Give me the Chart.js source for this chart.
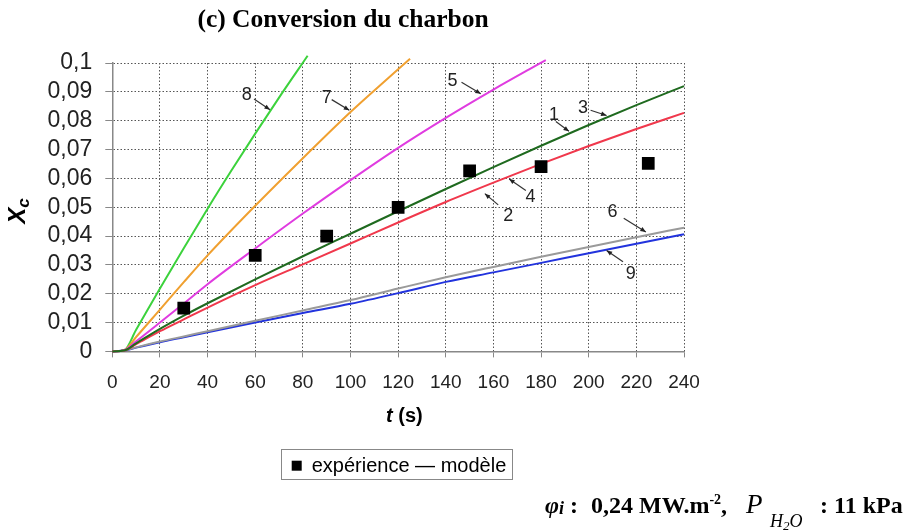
<!DOCTYPE html>
<html lang="fr">
<head>
<meta charset="utf-8">
<title>Conversion du charbon</title>
<script src="https://cdn.jsdelivr.net/npm/chart.js@4.4.1/dist/chart.umd.min.js"></script>
<style>
  html, body { margin: 0; padding: 0; background: #fff; }
  #wrap { position: relative; width: 913px; height: 530px; }
</style>
</head>
<body>
<div id="wrap"><canvas id="chart"></canvas></div>
<script>
/*--Données--*/
// points expérimentaux : temps (s) et conversion Xc
const tExp = [30, 60, 90, 120, 150, 180, 225];
const xExp = [0.0150, 0.0333, 0.0400, 0.0499, 0.0626, 0.0641, 0.0652];

// modèle, courbes sur toute la durée
const tModel = [0, 5, 10, 20, 30, 40, 60, 80, 100, 120, 140, 160, 180, 200, 220, 240];
const xModel1 = [0, 0.0003, 0.0028, 0.0078, 0.0124, 0.0167, 0.0250, 0.0330, 0.0408, 0.0486, 0.0563, 0.0639, 0.0713, 0.0785, 0.0854, 0.0920]; // 1 et 3
const xModel2 = [0, 0.0003, 0.0025, 0.0070, 0.0111, 0.0152, 0.0230, 0.0302, 0.0374, 0.0447, 0.0518, 0.0585, 0.0650, 0.0712, 0.0771, 0.0827]; // 2 et 4
const xModel6 = [0, 0.0003, 0.0014, 0.0034, 0.0052, 0.0070, 0.0106, 0.0142, 0.0178, 0.0218, 0.0257, 0.0293, 0.0328, 0.0362, 0.0396, 0.0429];
const xModel9 = [0, 0.0003, 0.0013, 0.0032, 0.0049, 0.0066, 0.0100, 0.0133, 0.0165, 0.0202, 0.0241, 0.0274, 0.0307, 0.0340, 0.0373, 0.0406];

// courbes rapides, qui sortent par le haut
const t5 = [0, 5, 10, 20, 30, 40, 60, 80, 100, 120, 140, 160, 175, 182];
const xModel5 = [0, 0.0004, 0.0035, 0.0100, 0.0166, 0.0233, 0.0357, 0.0478, 0.0594, 0.0706, 0.0810, 0.0908, 0.0978, 0.1010];
const t7 = [0, 5, 10, 20, 30, 40, 60, 80, 100, 110, 125];
const xModel7 = [0, 0.0004, 0.0050, 0.0145, 0.0240, 0.0333, 0.0505, 0.0670, 0.0830, 0.0905, 0.1015];
const t8 = [0, 5, 10, 20, 30, 40, 50, 60, 70, 82];
const xModel8 = [0, 0.0004, 0.0075, 0.0218, 0.0358, 0.0495, 0.0627, 0.0755, 0.0880, 0.1025];

const yTickLabels = ['0', '0,01', '0,02', '0,03', '0,04', '0,05', '0,06', '0,07', '0,08', '0,09', '0,1'];

// numéros des courbes : texte, départ et pointe de la flèche, en (t, Xc)
const curveLabels = [
  { text: '8', at: [56.4, 0.0890], from: [59.5, 0.0875], to: [66.2, 0.0838] },
  { text: '7', at: [90.0, 0.0879], from: [92.1, 0.0873], to: [99.5, 0.0836] },
  { text: '5', at: [142.8, 0.0936], from: [146.6, 0.0933], to: [154.7, 0.0893] },
  { text: '1', at: [185.4, 0.0821], from: [186.2, 0.0797], to: [191.7, 0.0763] },
  { text: '3', at: [197.6, 0.0844], from: [200.8, 0.0836], to: [207.5, 0.0818] },
  { text: '4', at: [175.6, 0.0534], from: [173.6, 0.0558], to: [166.6, 0.0598] },
  { text: '2', at: [166.2, 0.0468], from: [162.0, 0.0508], to: [156.4, 0.0547] },
  { text: '6', at: [210.0, 0.0482], from: [214.7, 0.0462], to: [224.0, 0.0414] },
  { text: '9', at: [217.7, 0.0269], from: [214.4, 0.0311], to: [207.5, 0.0350] }
];
/*--------*/

function pts(ts, xs) {
  return ts.map(function (t, i) { return { x: t, y: xs[i] }; });
}

function model(ts, xs, color) {
  return {
    data: pts(ts, xs),
    showLine: true,
    borderColor: color,
    borderWidth: 2,
    pointRadius: 0,
    cubicInterpolationMode: 'monotone',
    clip: { left: 2, top: 12, right: 2, bottom: 2 }
  };
}

function arrow(ctx, x1, y1, x2, y2) {
  const a = Math.atan2(y2 - y1, x2 - x1);
  ctx.beginPath();
  ctx.moveTo(x1, y1);
  ctx.lineTo(x2, y2);
  ctx.stroke();
  ctx.beginPath();
  ctx.moveTo(x2, y2);
  ctx.lineTo(x2 - 6 * Math.cos(a - 0.4), y2 - 6 * Math.sin(a - 0.4));
  ctx.lineTo(x2 - 6 * Math.cos(a + 0.4), y2 - 6 * Math.sin(a + 0.4));
  ctx.closePath();
  ctx.fill();
}

// texte en plusieurs morceaux (indices, exposants)
function runs(ctx, x, y, parts) {
  parts.forEach(function (p) {
    ctx.font = p.font;
    if (p.x !== undefined) x = p.x;
    ctx.fillText(p.text, x, y + (p.dy || 0));
    x += ctx.measureText(p.text).width;
  });
}

const decor = {
  id: 'decor',
  afterDatasetsDraw(chart) {
    const ctx = chart.ctx;
    const sx = chart.scales.x, sy = chart.scales.y;
    ctx.save();
    ctx.strokeStyle = '#333';
    ctx.fillStyle = '#222';
    ctx.lineWidth = 1.2;
    ctx.font = '18px "Liberation Sans", Arial, sans-serif';
    ctx.textAlign = 'center';
    ctx.textBaseline = 'middle';
    curveLabels.forEach(function (l) {
      ctx.fillText(l.text, sx.getPixelForValue(l.at[0]), sy.getPixelForValue(l.at[1]));
      arrow(ctx,
        sx.getPixelForValue(l.from[0]), sy.getPixelForValue(l.from[1]),
        sx.getPixelForValue(l.to[0]), sy.getPixelForValue(l.to[1]));
    });
    ctx.restore();
  },
  afterDraw(chart) {
    const ctx = chart.ctx;
    ctx.save();
    ctx.fillStyle = '#000';
    ctx.textBaseline = 'alphabetic';

    // titre
    ctx.textAlign = 'center';
    ctx.font = 'bold 25.5px "Liberation Serif", "Times New Roman", serif';
    ctx.fillText('(c) Conversion du charbon', 343, 27);

    // titre de l'axe t
    ctx.textAlign = 'left';
    runs(ctx, 386, 422, [
      { text: 't', font: 'bold italic 20px "Liberation Sans", Arial, sans-serif' },
      { text: ' (s)', font: 'bold 20px "Liberation Sans", Arial, sans-serif' }
    ]);

    // titre de l'axe Xc, vertical
    ctx.save();
    ctx.translate(25, 211);
    ctx.rotate(-Math.PI / 2);
    ctx.font = 'bold italic 24px "Liberation Sans", Arial, sans-serif';
    const wX = ctx.measureText('X').width;
    ctx.font = 'bold italic 17px "Liberation Sans", Arial, sans-serif';
    const wc = ctx.measureText('c').width;
    runs(ctx, -(wX + wc) / 2, 0, [
      { text: 'X', font: 'bold italic 24px "Liberation Sans", Arial, sans-serif' },
      { text: 'c', font: 'bold italic 17px "Liberation Sans", Arial, sans-serif', dy: 4 }
    ]);
    ctx.restore();

    // légende
    ctx.strokeStyle = '#888';
    ctx.lineWidth = 1;
    ctx.strokeRect(281.5, 449.5, 231, 30);
    ctx.fillRect(291.7, 460.7, 10, 10);
    ctx.font = '20px "Liberation Sans", Arial, sans-serif';
    ctx.fillText('expérience — modèle', 311.7, 472);

    // conditions opératoires
    const serif = '"Liberation Serif", "Times New Roman", serif';
    runs(ctx, 545, 513, [
      { text: 'φ', font: 'bold italic 24px ' + serif },
      { text: 'i', font: 'bold italic 18px ' + serif, dy: 1 },
      { text: ' :', font: 'bold 24px ' + serif },
      { text: '0,24 MW.m', font: 'bold 24px ' + serif, x: 591 },
      { text: '-2', font: 'bold 14px ' + serif, dy: -9 },
      { text: ',', font: 'bold 24px ' + serif },
      { text: 'P', font: 'italic 27px ' + serif, x: 746 },
      { text: 'H', font: 'italic 18px ' + serif, dy: 14, x: 770 },
      { text: '2', font: 'italic 13px ' + serif, dy: 17 },
      { text: 'O', font: 'italic 18px ' + serif, dy: 14 },
      { text: ' : 11 kPa', font: 'bold 24px ' + serif, x: 814 }
    ]);
    ctx.restore();
  }
};

Chart.defaults.font.family = '"Liberation Sans", Arial, sans-serif';
Chart.defaults.color = '#222';

new Chart('chart', {
  type: 'scatter',
  data: {
    datasets: [
      {
        data: pts(tExp, xExp),
        pointStyle: 'rect',
        pointRadius: 9,
        pointBackgroundColor: '#000',
        pointBorderColor: '#000',
        pointBorderWidth: 0
      },
      model(tModel, xModel1, '#1f6a1f'),
      model(tModel, xModel2, '#f0384c'),
      model(tModel, xModel6, '#9a9a9a'),
      model(tModel, xModel9, '#2233dd'),
      model(t5, xModel5, '#e03ce0'),
      model(t7, xModel7, '#f0a030'),
      model(t8, xModel8, '#3cd23c')
    ]
  },
  options: {
    responsive: true,
    maintainAspectRatio: false,
    animation: false,
    events: [],
    layout: { padding: { left: 0, top: 63, right: 229, bottom: 0 } },
    plugins: { legend: { display: false }, tooltip: { enabled: false }, title: { display: false } },
    scales: {
      x: {
        type: 'linear',
        min: 0,
        max: 240,
        afterFit: function (scale) { scale.height = 178.6; },
        ticks: { stepSize: 20, padding: 14, font: { size: 19 }, maxRotation: 0, autoSkip: false },
        grid: { color: '#555', lineWidth: 1, tickLength: 6, tickColor: '#888' },
        border: { display: true, color: '#888', width: 1.5, dash: [1.5, 2] }
      },
      y: {
        type: 'linear',
        min: 0,
        max: 0.1,
        afterFit: function (scale) { scale.width = 112.3; },
        ticks: {
          stepSize: 0.01,
          padding: 13,
          autoSkip: false,
          font: { size: 23 },
          callback: function (v, i) { return yTickLabels[i]; }
        },
        grid: { color: '#555', lineWidth: 1, tickLength: 7, tickColor: '#888' },
        border: { display: true, color: '#888', width: 1.5, dash: [1.5, 2] }
      }
    }
  },
  plugins: [decor]
});
</script>
</body>
</html>
